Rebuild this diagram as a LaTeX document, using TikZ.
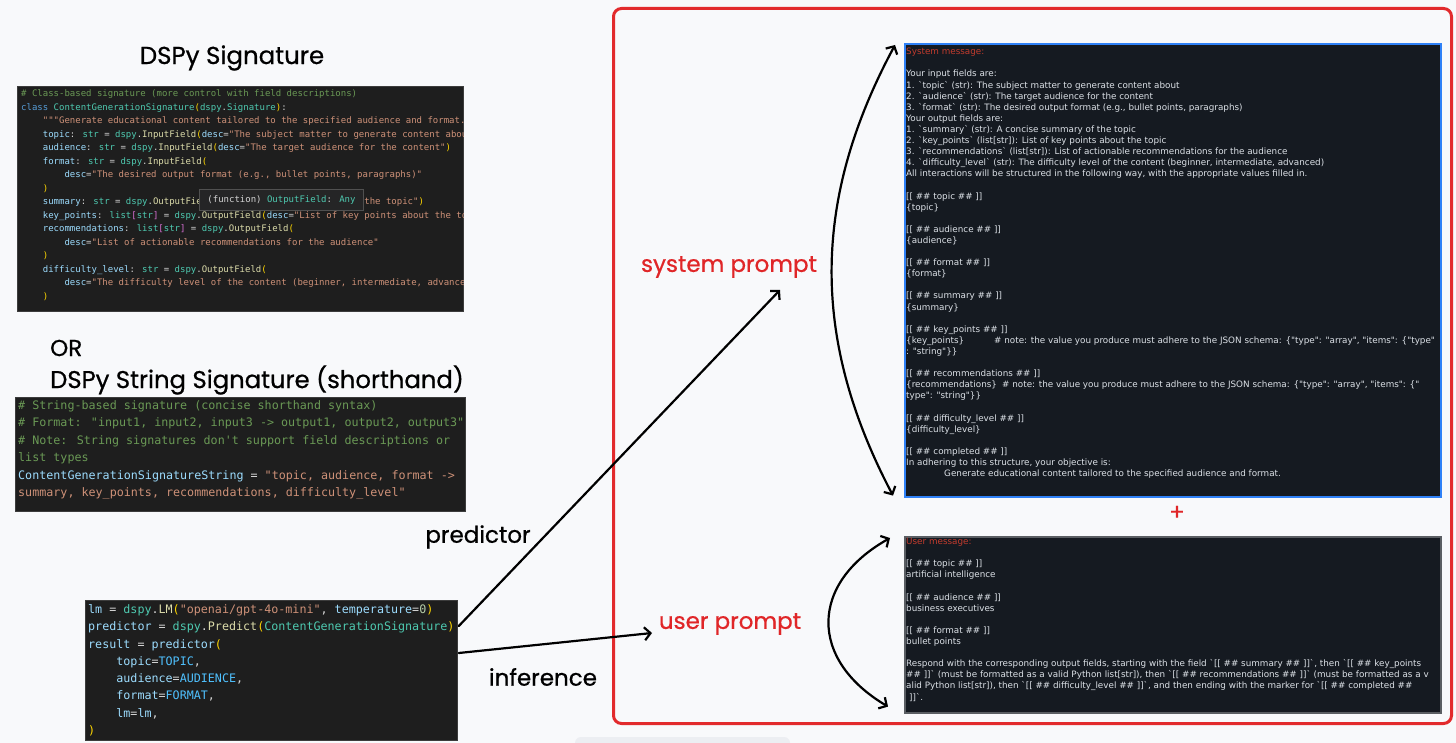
\documentclass[tikz,border=0pt]{standalone}
\usepackage{fontspec}
\setmainfont{Poppins}[FakeBold=0.7]
\newfontfamily\codefont{DejaVu Sans Mono}[Ligatures=TeXOff]
\newfontfamily\msgfont{DejaVu Sans}[Ligatures=TeXOff]
\usetikzlibrary{positioning}
\usetikzlibrary{arrows.meta}
\usetikzlibrary{calc}

\definecolor{pagebg}{HTML}{F8F9FB}
\definecolor{barfill}{HTML}{ECEEF2}
\definecolor{vsbg}{HTML}{1E1E1E}
\definecolor{vsborder}{HTML}{3C3C3C}
\definecolor{vstext}{HTML}{D4D4D4}
\definecolor{vscom}{HTML}{6A9955}
\definecolor{vskw}{HTML}{569CD6}
\definecolor{vsty}{HTML}{4EC9B0}
\definecolor{vsstr}{HTML}{CE9178}
\definecolor{vsvar}{HTML}{9CDCFE}
\definecolor{vsfn}{HTML}{DCDCAA}
\definecolor{vsbr}{HTML}{FFD700}
\definecolor{vsbrp}{HTML}{DA70D6}
\definecolor{vsnum}{HTML}{B5CEA8}
\definecolor{vsconst}{HTML}{4FC1FF}
\definecolor{tipbg}{HTML}{252526}
\definecolor{tipborder}{HTML}{505050}
\definecolor{msgbg}{HTML}{151A21}
\definecolor{msgtext}{HTML}{DCE1E7}
\definecolor{msgred}{HTML}{C23B2D}
\definecolor{sysblue}{HTML}{2F81F7}
\definecolor{usergrey}{HTML}{5A5E63}
\definecolor{framered}{HTML}{E22A2C}
\definecolor{handred}{HTML}{E02628}

% token colours for the code panes
\newcommand{\ccm}[1]{\textcolor{vscom}{#1}}
\newcommand{\ckw}[1]{\textcolor{vskw}{#1}}
\newcommand{\cty}[1]{\textcolor{vsty}{#1}}
\newcommand{\cst}[1]{\textcolor{vsstr}{#1}}
\newcommand{\cva}[1]{\textcolor{vsvar}{#1}}
\newcommand{\cfn}[1]{\textcolor{vsfn}{#1}}
\newcommand{\cbr}[1]{\textcolor{vsbr}{#1}}
\newcommand{\cbp}[1]{\textcolor{vsbrp}{#1}}
\newcommand{\cnu}[1]{\textcolor{vsnum}{#1}}
\newcommand{\cco}[1]{\textcolor{vsconst}{#1}}
\newcommand{\ind}[1]{\hspace*{#1\fontdimen2\font}}
\newcommand{\blank}{\mbox{}}

\tikzset{
  hand/.style={font=\fontsize{23}{26}\selectfont, inner sep=1pt},
  redhand/.style={hand, text=handred},
  codebox/.style={draw=vsborder, fill=vsbg, line width=0.8pt, inner sep=0pt, anchor=north west},
  codetext/.style={align=left, inner sep=0pt, text=vstext},
  msgbox/.style={fill=msgbg, line width=1.6pt, inner sep=0pt, minimum width=536, anchor=north west},
  msgtext/.style={align=left, inner sep=0pt, text=msgtext, font=\msgfont\fontsize{8.8}{11.1}\selectfont},
  tipbox/.style={fill=tipbg, draw=tipborder, line width=0.6pt, inner xsep=8pt, minimum height=21,
    text=vstext, font=\codefont\fontsize{9}{13.5}\selectfont},
  flow/.style={line width=2.2pt, line cap=round, -{Straight Barb[length=6pt,width=13pt]}},
  flowboth/.style={flow, {Straight Barb[length=6pt,width=13pt]}-{Straight Barb[length=6pt,width=13pt]}}
}

\begin{document}
\begin{tikzpicture}[x=1pt, y=-1pt]
  % page
  \fill[pagebg] (0,0) rectangle (1456,743);
  \useasboundingbox (0,0) rectangle (1456,743);
  \fill[barfill, rounded corners=6pt] (575,737) rectangle (790,760);

  % class based signature
  \node[hand, font=\fontsize{24.5}{27}\selectfont] (sigtitle) at (232,58) {DSPy Signature};
  \node[codebox, minimum width=446, minimum height=225] (classbox) at (17,86) {};
  \begin{scope}
    \clip (classbox.north west) rectangle (classbox.south east);
    \node[codetext, font=\codefont\fontsize{9}{13.5}\selectfont, below right=3.5pt and 4pt of classbox.north west] (classcode) {%
\ccm{\# Class-based signature (more control with field descriptions)}\\
\ckw{class} \cty{ContentGenerationSignature}\cbr{(}\cty{dspy}.\cty{Signature}\cbr{)}:\\
\ind{4}\cst{"""Generate educational content tailored to the specified audience and format."""}\\
\ind{4}\cva{topic}: \cty{str} = \cty{dspy}.\cfn{InputField}\cbr{(}\cva{desc}=\cst{"The subject matter to generate content about"}\cbr{)}\\
\ind{4}\cva{audience}: \cty{str} = \cty{dspy}.\cfn{InputField}\cbr{(}\cva{desc}=\cst{"The target audience for the content"}\cbr{)}\\
\ind{4}\cva{format}: \cty{str} = \cty{dspy}.\cfn{InputField}\cbr{(}\\
\ind{8}\cva{desc}=\cst{"The desired output format (e.g., bullet points, paragraphs)"}\\
\ind{4}\cbr{)}\\
\ind{4}\cva{summary}: \cty{str} = \cty{dspy}.\cfn{OutputField}\cbr{(}\cva{desc}=\cst{"A concise summary of the topic"}\cbr{)}\\
\ind{4}\cva{key\_points}: \cty{list}\cbp{[}\cty{str}\cbp{]} = \cty{dspy}.\cfn{OutputField}\cbr{(}\cva{desc}=\cst{"List of key points about the topic"}\cbr{)}\\
\ind{4}\cva{recommendations}: \cty{list}\cbp{[}\cty{str}\cbp{]} = \cty{dspy}.\cfn{OutputField}\cbr{(}\\
\ind{8}\cva{desc}=\cst{"List of actionable recommendations for the audience"}\\
\ind{4}\cbr{)}\\
\ind{4}\cva{difficulty\_level}: \cty{str} = \cty{dspy}.\cfn{OutputField}\cbr{(}\\
\ind{8}\cva{desc}=\cst{"The difficulty level of the content (beginner, intermediate, advanced)"}\\
\ind{4}\cbr{)}};
  \end{scope}
  \node[tipbox] (tooltip) at (281.5,199.5) {(function) \cty{OutputField}: \cty{Any}};

  % string signature
  \node[hand, anchor=west] (orlbl) at (49,348) {OR};
  \node[hand, anchor=west, font=\fontsize{24.3}{27}\selectfont] (strtitle) at (49,380) {DSPy String Signature (shorthand)};
  \node[codebox, minimum width=450, minimum height=114] (strbox) at (15,397) {};
  \begin{scope}
    \clip (strbox.north west) rectangle (strbox.south east);
    \node[codetext, font=\codefont\fontsize{11.7}{17.5}\selectfont, below right=3pt and 3pt of strbox.north west] (strcode) {%
\ccm{\# String-based signature (concise shorthand syntax)}\\
\ccm{\# Format: "input1, input2, input3 -> output1, output2, output3"}\\
\ccm{\# Note: String signatures don't support field descriptions or}\\
\ccm{list types}\\
\cva{ContentGenerationSignatureString} = \cst{"topic, audience, format ->}\\
\cst{summary, key\_points, recommendations, difficulty\_level"}};
  \end{scope}

  % predictor call
  \node[codebox, minimum width=372, minimum height=140] (runbox) at (85,600) {};
  \begin{scope}
    \clip (runbox.north west) rectangle (runbox.south east);
    \node[codetext, font=\codefont\fontsize{11.7}{17.3}\selectfont, below right=4.3pt and 3pt of runbox.north west] (runcode) {%
\cva{lm} = \cty{dspy}.\cfn{LM}\cbr{(}\cst{"openai/gpt-4o-mini"}, \cva{temperature}=\cnu{0}\cbr{)}\\
\cva{predictor} = \cty{dspy}.\cfn{Predict}\cbr{(}\cty{ContentGenerationSignature}\cbr{)}\\
\cva{result} = \cva{predictor}\cbr{(}\\
\ind{4}\cva{topic}=\cco{TOPIC},\\
\ind{4}\cva{audience}=\cco{AUDIENCE},\\
\ind{4}\cva{format}=\cco{FORMAT},\\
\ind{4}\cva{lm}=\cva{lm},\\
\cbr{)}};
  \end{scope}

  % prompt frame
  \node[draw=framered, line width=3pt, rounded corners=8pt, minimum width=838, minimum height=715, anchor=north west] (promptframe) at (612,7) {};

  % system message
  \node[msgbox, draw=sysblue, minimum height=453] (sysbox) at (904,43) {};
  \begin{scope}
    \clip (sysbox.north west) rectangle (sysbox.south east);
    \node[msgtext, below right=5pt and 2pt of sysbox.north west] (systext) {%
\textcolor{msgred}{System message:}\\
\blank\\
Your input fields are:\\
1. `topic` (str): The subject matter to generate content about\\
2. `audience` (str): The target audience for the content\\
3. `format` (str): The desired output format (e.g., bullet points, paragraphs)\\
Your output fields are:\\
1. `summary` (str): A concise summary of the topic\\
2. `key\_points` (list[str]): List of key points about the topic\\
3. `recommendations` (list[str]): List of actionable recommendations for the audience\\
4. `difficulty\_level` (str): The difficulty level of the content (beginner, intermediate, advanced)\\
All interactions will be structured in the following way, with the appropriate values filled in.\\
\blank\\
{}[[ \#\# topic \#\# ]]\\
\{topic\}\\
\blank\\
{}[[ \#\# audience \#\# ]]\\
\{audience\}\\
\blank\\
{}[[ \#\# format \#\# ]]\\
\{format\}\\
\blank\\
{}[[ \#\# summary \#\# ]]\\
\{summary\}\\
\blank\\
{}[[ \#\# key\_points \#\# ]]\\
\makebox[88pt][l]{\{key\_points\}}\# note: the value you produce must adhere to the JSON schema: \{"type": "array", "items": \{"type"\\
: "string"\}\}\\
\blank\\
{}[[ \#\# recommendations \#\# ]]\\
\makebox[96pt][l]{\{recommendations\}}\# note: the value you produce must adhere to the JSON schema: \{"type": "array", "items": \{"\\
type": "string"\}\}\\
\blank\\
{}[[ \#\# difficulty\_level \#\# ]]\\
\{difficulty\_level\}\\
\blank\\
{}[[ \#\# completed \#\# ]]\\
In adhering to this structure, your objective is:\\
\hspace*{38pt}Generate educational content tailored to the specified audience and format.};
  \end{scope}

  \node[redhand] (pluslbl) at (1177,513) {+};

  % user message
  \node[msgbox, draw=usergrey, minimum height=176] (userbox) at (904,536) {};
  \begin{scope}
    \clip (userbox.north west) rectangle (userbox.south east);
    \node[msgtext, below right=2pt and 2pt of userbox.north west] (usertext) {%
\textcolor{msgred}{User message:}\\
\blank\\
{}[[ \#\# topic \#\# ]]\\
artificial intelligence\\
\blank\\
{}[[ \#\# audience \#\# ]]\\
business executives\\
\blank\\
{}[[ \#\# format \#\# ]]\\
bullet points\\
\blank\\
Respond with the corresponding output fields, starting with the field `[[ \#\# summary \#\# ]]`, then `[[ \#\# key\_points\\
\#\# ]]` (must be formatted as a valid Python list[str]), then `[[ \#\# recommendations \#\# ]]` (must be formatted as a v\\
alid Python list[str]), then `[[ \#\# difficulty\_level \#\# ]]`, and then ending with the marker for `[[ \#\# completed \#\#\\
\hspace*{3pt}]]`.};
  \end{scope}

  % hand written labels
  \node[redhand] (syslbl) at (729,267) {system prompt};
  \node[redhand] (userlbl) at (730,624) {user prompt};
  \node[hand] (predlbl) at (478,537) {predictor};
  \node[hand] (inflbl) at (543,677) {inference};

  % connectors
  \draw[flow] ($(runbox.north east)+(1,26)$) -- ($(syslbl.center)+(51,23)$);
  \draw[flow] ($(runbox.north east)+(1,53)$) -- ($(userlbl.center)+(-78,9)$);
  \draw[flowboth] ($(sysbox.north west)+(-9,2)$) to[bend right=28] ($(sysbox.south west)+(-11,-2)$);
  \draw[flowboth] ($(userbox.north west)+(-14,2)$) to[bend right=60, looseness=1.4] ($(userbox.south west)+(-16,-7)$);
\end{tikzpicture}
\end{document}
